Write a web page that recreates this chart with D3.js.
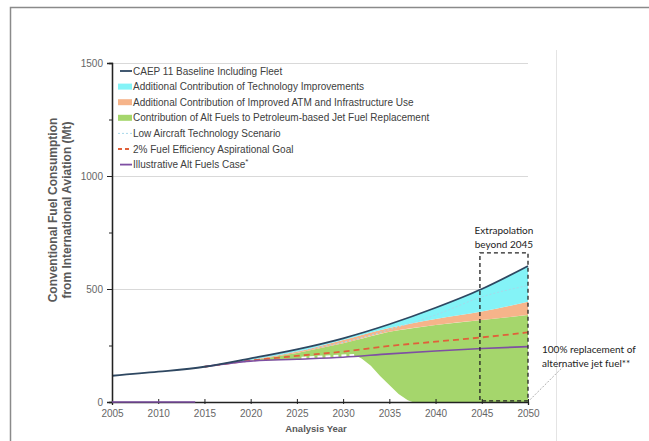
<!DOCTYPE html>
<html>
<head>
<meta charset="utf-8">
<script src="https://cdn.jsdelivr.net/npm/d3@7"></script>
<style>
  body { margin: 0; background: #fff; }
  svg { display: block; }
</style>
</head>
<body>
<div id="chart"></div>
<script>
var pal = {
  navy: "#2E4761",
  cyan: "#84F3F7",
  orange: "#F6B48A",
  green: "#A5D66C",
  dotted: "#A8D8EA",
  red: "#E0603A",
  purple: "#7E4FA3",
  grid: "#D9D9D9",
  tick: "#666666"
};

// data (Mt)
var years = [2005, 2010, 2015, 2020, 2025, 2030, 2035, 2040, 2045, 2050];
var baseline = [116, 134, 156, 193, 233, 282, 344, 417, 500, 602];

var futYears = [2015, 2020, 2025, 2030, 2035, 2040, 2045, 2050];
var techBottom = [156, 186, 223, 274, 327, 367, 400, 444];   // top of ATM band
var atmBottom = [156, 183, 217, 260, 311, 341, 363, 385];    // top of alt fuel band
var goal2pct = [156, 183, 204, 223, 248, 267, 286, 308];
var altFuels = [156, 181, 189, 198, 213, 226, 237, 245];

var lowTechYears = [2020, 2025, 2030, 2035, 2040, 2045, 2050];
var lowTech = [190, 224, 264, 320, 385, 465, 515];

var greenLowYears = [2015, 2020, 2025, 2030, 2031.5, 2032, 2033, 2034, 2035, 2036, 2037, 2037.5, 2040, 2045, 2050];
var greenLow = [156, 181, 189, 198, 202, 192, 160, 115, 75, 35, 8, 0, 0, 0, 0];

var altZeroYears = [2005, 2014];
var altZero = [0, 0];

var yTicks = [0, 500, 1000, 1500];
var yMinor = [250, 750, 1250];
var xTicks = [2005, 2010, 2015, 2020, 2025, 2030, 2035, 2040, 2045, 2050];

var legendItems = [
  {label: "CAEP 11 Baseline Including Fleet", type: "line", color: pal.navy},
  {label: "Additional Contribution of Technology Improvements", type: "rect", color: pal.cyan},
  {label: "Additional Contribution of Improved ATM and Infrastructure Use", type: "rect", color: pal.orange},
  {label: "Contribution of Alt Fuels to Petroleum-based Jet Fuel Replacement", type: "rect", color: pal.green},
  {label: "Low Aircraft Technology Scenario", type: "dot", color: pal.dotted},
  {label: "2% Fuel Efficiency Aspirational Goal", type: "dash", color: pal.red},
  {label: "Illustrative Alt Fuels Case", type: "line", color: pal.purple, star: true}
];

var W = 649, H = 441;
var margin = {top: 63, left: 112};
var width = 416, height = 339;

var svg = d3.select("#chart").append("svg")
  .attr("width", W).attr("height", H);

// outer frame like the slide
svg.append("path")
  .attr("d", "M10.5," + H + "V7.5H" + W)
  .attr("fill", "none").attr("stroke", "#8a8a8a").attr("stroke-width", 1.5);
svg.append("line")
  .attr("x1", 556.5).attr("x2", 556.5).attr("y1", 50).attr("y2", H)
  .attr("stroke", "#e4e4e4");

var g = svg.append("g")
  .attr("transform", "translate(" + margin.left + "," + margin.top + ")");

var x = d3.scaleLinear().domain([2005, 2050]).range([0, width]);
var y = d3.scaleLinear().domain([0, 1500]).range([height, 0]);

// gridlines
g.selectAll(".grid").data(yTicks.slice(1)).enter().append("line")
  .attr("x1", 0).attr("x2", width)
  .attr("y1", function(d) { return Math.round(y(d)) + 0.5; })
  .attr("y2", function(d) { return Math.round(y(d)) + 0.5; })
  .attr("stroke", pal.grid).attr("stroke-width", 1);

function pts(xs, ys) { return xs.map(function(d, i) { return [d, ys[i]]; }); }
function band(xs, top, bottom) { return xs.map(function(d, i) { return [d, top[i], bottom[i]]; }); }

var curve = d3.curveMonotoneX;
var area = d3.area().curve(curve)
  .x(function(d) { return x(d[0]); })
  .y0(function(d) { return y(d[2]); })
  .y1(function(d) { return y(d[1]); });
var line = d3.line().curve(curve)
  .x(function(d) { return x(d[0]); })
  .y(function(d) { return y(d[1]); });

var baseFut = baseline.slice(2);

// green band: top follows ATM bottom, bottom has its own outline
var greenTopFn = d3.scaleLinear().domain(futYears).range(atmBottom);
var greenData = greenLowYears.map(function(d, i) { return [d, greenTopFn(d), greenLow[i]]; });
g.append("path").datum(greenData).attr("fill", pal.green).attr("d", area.curve(d3.curveLinear));
area.curve(curve);
g.append("path").datum(band(futYears, techBottom, atmBottom)).attr("fill", pal.orange).attr("d", area);
g.append("path").datum(band(futYears, baseFut, techBottom)).attr("fill", pal.cyan).attr("d", area);

// small white gap above the alt fuels line
g.append("path").datum(pts([2025.5, 2031.2], [194, 206]))
  .attr("fill", "none").attr("stroke", "#fff").attr("stroke-width", 3)
  .attr("stroke-dasharray", "5,3").attr("d", line);

g.append("path").datum(pts(lowTechYears, lowTech))
  .attr("fill", "none").attr("stroke", pal.dotted).attr("stroke-width", 1)
  .attr("stroke-dasharray", "2,2").attr("d", line);
g.append("path").datum(pts(futYears, goal2pct))
  .attr("fill", "none").attr("stroke", pal.red).attr("stroke-width", 1.8)
  .attr("stroke-dasharray", "6,4").attr("d", line);
g.append("path").datum(pts(futYears, altFuels))
  .attr("fill", "none").attr("stroke", pal.purple).attr("stroke-width", 1.6).attr("d", line);
g.append("path").datum(pts(years, baseline))
  .attr("fill", "none").attr("stroke", pal.navy).attr("stroke-width", 1.8).attr("d", line);

// axes
var yAxis = g.append("g").call(d3.axisLeft(y).tickValues(yTicks).tickFormat(d3.format("d")).tickSize(5).tickPadding(4));
g.append("g").call(d3.axisLeft(y).tickValues(yMinor).tickSize(3).tickFormat(""));
var xAxis = g.append("g").attr("transform", "translate(0," + height + ")")
  .call(d3.axisBottom(x).tickValues(xTicks).tickFormat(d3.format("d")).tickSize(3).tickPadding(5));
g.selectAll(".domain").attr("stroke", "#222").attr("stroke-width", 1.3);
g.selectAll(".tick line").attr("stroke", "#222");
g.selectAll(".tick text").attr("fill", pal.tick)
  .style("font-family", "'Liberation Sans', Arial, sans-serif").style("font-size", "10px");
xAxis.selectAll(".tick line").attr("y1", -3).attr("y2", 2);

g.append("path").datum(pts(altZeroYears, altZero))
  .attr("fill", "none").attr("stroke", pal.purple).attr("stroke-width", 1.6).attr("d", line);

// axis titles
g.append("text")
  .attr("x", width / 2 - 4).attr("y", height + 30)
  .attr("text-anchor", "middle")
  .style("font-family", "'Liberation Sans', Arial, sans-serif")
  .style("font-size", "9.5px").style("font-weight", "bold").attr("fill", "#595959")
  .text("Analysis Year");
var yt = g.append("text")
  .attr("transform", "translate(-55,147) rotate(-90)")
  .attr("text-anchor", "middle")
  .style("font-family", "'Liberation Sans', Arial, sans-serif")
  .style("font-size", "12px").style("font-weight", "bold").attr("fill", "#595959");
yt.append("tspan").attr("x", 0).attr("dy", 0).text("Conventional Fuel Consumption");
yt.append("tspan").attr("x", 0).attr("dy", 14).text("from International Aviation (Mt)");

// legend
var leg = g.append("g").attr("transform", "translate(5,8)");
legendItems.forEach(function(d, i) {
  var row = leg.append("g").attr("transform", "translate(0," + (i * 15.6) + ")");
  if (d.type === "rect") {
    row.append("rect").attr("x", 1).attr("y", -3).attr("width", 14).attr("height", 6).attr("fill", d.color);
  } else {
    row.append("line").attr("x1", d.type === "line" ? 3 : 1).attr("x2", 15).attr("y1", 0).attr("y2", 0)
      .attr("stroke", d.color).attr("stroke-width", d.type === "dot" ? 1 : 1.8)
      .attr("stroke-dasharray", d.type === "dash" ? "4,3" : (d.type === "dot" ? "2,2" : null));
  }
  var t = row.append("text").attr("x", 16).attr("y", 3.5)
    .style("font-family", "'Liberation Sans', Arial, sans-serif")
    .style("font-size", "10px").attr("fill", "#404040").text(d.label);
  if (d.star) t.append("tspan").attr("dy", -4).style("font-size", "8px").text("*");
});

// extrapolation box
g.append("rect")
  .attr("x", x(2044.8)).attr("y", y(660))
  .attr("width", x(2050) - x(2044.8)).attr("height", y(5) - y(660))
  .attr("fill", "none").attr("stroke", "#222").attr("stroke-width", 1.3)
  .attr("stroke-dasharray", "4,3");
var ext = g.append("text").attr("text-anchor", "middle")
  .style("font-family", "Lato, 'Open Sans', sans-serif").style("font-size", "10px").attr("fill", "#222");
ext.append("tspan").attr("x", x(2047.4)).attr("y", y(742)).text("Extrapolation");
ext.append("tspan").attr("x", x(2047.4)).attr("y", y(680)).text("beyond 2045");

// replacement note
g.append("line")
  .attr("x1", x(2050) + 2).attr("y1", y(10)).attr("x2", x(2050) + 36).attr("y2", y(160))
  .attr("stroke", "#999").attr("stroke-width", 0.8).attr("stroke-dasharray", "2,1.5");
var rep = g.append("text")
  .style("font-family", "Lato, 'Open Sans', sans-serif").style("font-size", "10px").attr("fill", "#222");
rep.append("tspan").attr("x", x(2050) + 14).attr("y", y(218)).text("100% replacement of");
rep.append("tspan").attr("x", x(2050) + 14).attr("y", y(153)).text("alternative jet fuel**");
</script>
</body>
</html>
